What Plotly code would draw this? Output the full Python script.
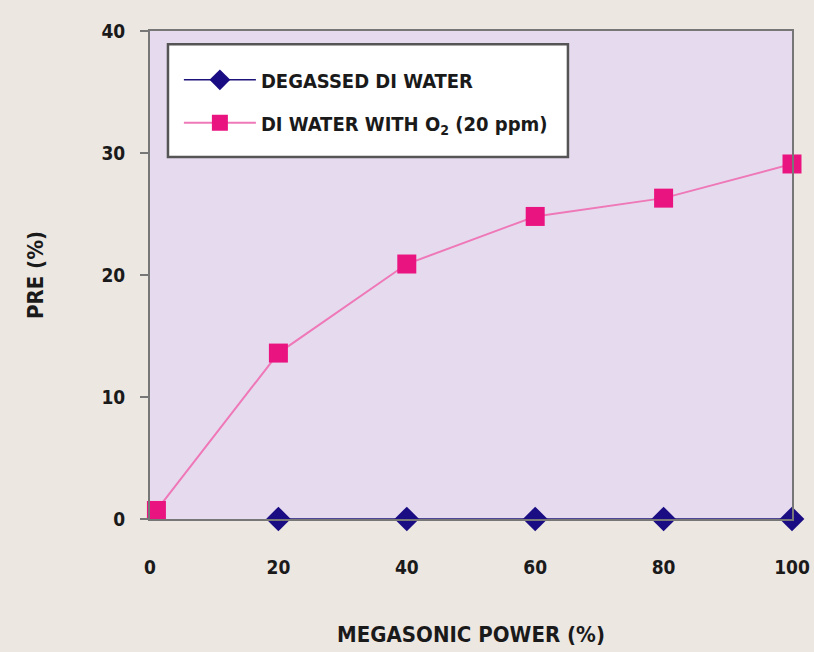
import plotly.graph_objects as go

power = [20, 40, 60, 80, 100]
degassed = [0, 0, 0, 0, 0]
power_o2 = [1, 20, 40, 60, 80, 100]
with_o2 = [0.7, 13.6, 20.9, 24.8, 26.3, 29.1]
x_ticks = [0, 20, 40, 60, 80, 100]
y_ticks = [0, 10, 20, 30, 40]

FONT = "DejaVu Sans Condensed"

fig = go.Figure()
fig.add_trace(go.Scatter(
    x=power, y=degassed, mode="lines+markers", name="DEGASSED DI WATER",
    legendgroup="a",
    line=dict(color="#1c1478", width=1.5),
    marker=dict(symbol="diamond", size=19, color="#1a0c82"),
    cliponaxis=False,
))
fig.add_trace(go.Scatter(
    x=power_o2, y=with_o2, mode="lines+markers", name="DI WATER WITH O<sub>2</sub> (20 ppm)",
    legendgroup="b",
    line=dict(color="#ee78b8", width=2),
    marker=dict(symbol="square", size=19, color="#ea1480"),
    cliponaxis=False,
))

# legend frame
fig.add_shape(type="rect", xref="paper", yref="paper",
              x0=0.028, x1=0.651, y0=0.742, y1=0.973,
              fillcolor="#ffffff", line=dict(color="#555555", width=2.5), layer="below")

fig.update_layout(
    width=814, height=652,
    autosize=False,
    margin=dict(l=150, r=22, t=31, b=133, autoexpand=False),
    paper_bgcolor="#ede7e2",
    plot_bgcolor="#e6dbee",
    font=dict(family=FONT, color="#1a1a1a"),
    showlegend=True,
    legend=dict(
        x=0.045, y=0.94, xanchor="left", yanchor="top",
        bgcolor="rgba(0,0,0,0)", borderwidth=0,
        font=dict(family=FONT, size=20, color="#1a1a1a", weight=700),
        itemwidth=72,
        tracegroupgap=14,
    ),
    xaxis=dict(
        range=[0, 100], tickvals=x_ticks, ticks="", showgrid=False, zeroline=False,
        showline=True, linecolor="#777777", linewidth=2, mirror=True, automargin=False,
        tickfont=dict(family=FONT, size=19, color="#1a1a1a", weight=700),
        ticklabelstandoff=30,
        title=dict(text="MEGASONIC POWER (%)", font=dict(family=FONT, size=22, color="#1a1a1a", weight=700), standoff=50),
    ),
    yaxis=dict(
        range=[0, 40], tickvals=y_ticks, ticks="outside", ticklen=8, tickcolor="#777777", tickwidth=2,
        showgrid=False, zeroline=False,
        showline=True, linecolor="#777777", linewidth=2, mirror=True, automargin=False,
        tickfont=dict(family=FONT, size=19, color="#1a1a1a", weight=700),
        ticklabelstandoff=11,
        title=dict(text="PRE (%)", font=dict(family=FONT, size=22, color="#1a1a1a", weight=700), standoff=52),
    ),
)

fig.write_html("out.html", config={"displayModeBar": False},
               post_script="document.body.style.margin='0';")
